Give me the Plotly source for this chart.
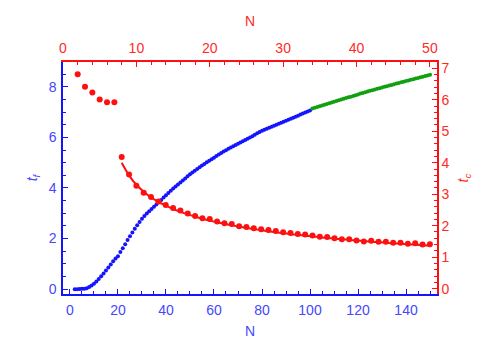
import plotly.graph_objects as go

# Bottom/left axes: t_f vs N
n_blue = list(range(2, 101))
tf_blue = [0.00, 0.00, 0.01, 0.02, 0.02, 0.04, 0.09, 0.15, 0.22, 0.30,
           0.40, 0.51, 0.62, 0.74, 0.86, 0.98, 1.10, 1.21, 1.30, 1.47,
           1.62, 1.78, 1.94, 2.09, 2.24, 2.39, 2.53, 2.66, 2.78, 2.89,
           2.99, 3.08, 3.17, 3.26, 3.35, 3.44, 3.53, 3.62, 3.71, 3.80,
           3.89, 3.98, 4.06, 4.14, 4.22, 4.30, 4.38, 4.46, 4.54, 4.61,
           4.68, 4.75, 4.82, 4.89, 4.95, 5.02, 5.08, 5.14, 5.20, 5.26,
           5.32, 5.38, 5.44, 5.49, 5.55, 5.60, 5.65, 5.70, 5.75, 5.80,
           5.85, 5.90, 5.95, 6.00, 6.05, 6.10, 6.16, 6.21, 6.26, 6.30,
           6.34, 6.38, 6.42, 6.46, 6.50, 6.54, 6.58, 6.62, 6.66, 6.70,
           6.74, 6.78, 6.82, 6.86, 6.90, 6.94, 6.98, 7.02, 7.06]

n_green = list(range(101, 151))
tf_green = [7.14, 7.17, 7.20, 7.23, 7.26, 7.29, 7.32, 7.35, 7.38, 7.41,
            7.44, 7.47, 7.50, 7.53, 7.56, 7.59, 7.61, 7.64, 7.67, 7.70,
            7.73, 7.75, 7.78, 7.81, 7.84, 7.86, 7.89, 7.92, 7.94, 7.97,
            8.00, 8.02, 8.05, 8.07, 8.10, 8.13, 8.15, 8.18, 8.20, 8.23,
            8.25, 8.28, 8.30, 8.33, 8.35, 8.38, 8.40, 8.43, 8.45, 8.48]

# Top/right axes: t_c vs N
n_red = list(range(2, 51))
tc_red = [6.81, 6.41, 6.23, 6.01, 5.92, 5.92, 4.18, 3.63, 3.27, 3.05,
          2.91, 2.77, 2.66, 2.56, 2.48, 2.39, 2.31, 2.24, 2.21, 2.13,
          2.08, 2.05, 1.98, 1.96, 1.92, 1.89, 1.86, 1.83, 1.79, 1.77,
          1.74, 1.72, 1.69, 1.65, 1.64, 1.60, 1.57, 1.57, 1.53, 1.50,
          1.52, 1.49, 1.49, 1.46, 1.46, 1.43, 1.44, 1.40, 1.41]

n_fit = list(range(8, 51))
tc_fit = [4.00, 3.60, 3.30, 3.08, 2.90, 2.76, 2.64, 2.53, 2.44, 2.36,
          2.29, 2.22, 2.16, 2.11, 2.06, 2.01, 1.97, 1.93, 1.89, 1.86,
          1.82, 1.79, 1.76, 1.73, 1.71, 1.68, 1.66, 1.63, 1.61, 1.59,
          1.57, 1.55, 1.53, 1.51, 1.49, 1.48, 1.46, 1.44, 1.43, 1.41,
          1.40, 1.38, 1.37]

BLUE = "#1414ff"
BLUE_TXT = "#4646ff"
GREEN = "#10a010"
RED = "#ff1010"
RED_TXT = "#ff2a2a"
FONT = "Liberation Sans"

fig = go.Figure()
fig.add_trace(go.Scatter(x=n_blue, y=tf_blue, mode="markers",
                         marker=dict(color=BLUE, size=4), xaxis="x", yaxis="y"))
fig.add_trace(go.Scatter(x=n_green, y=tf_green, mode="markers",
                         marker=dict(color=GREEN, size=4), xaxis="x", yaxis="y"))
fig.add_trace(go.Scatter(x=n_fit, y=tc_fit, mode="lines",
                         line=dict(color=RED, width=2, shape="spline"),
                         xaxis="x2", yaxis="y2"))
fig.add_trace(go.Scatter(x=n_red, y=tc_red, mode="markers",
                         marker=dict(color=RED, size=6), xaxis="x2", yaxis="y2"))

common = dict(showgrid=False, zeroline=False, showline=True, linewidth=1.5,
              ticks="inside", ticklen=5, tickwidth=1, automargin=False)

fig.update_layout(
    width=492, height=349,
    margin=dict(l=55, r=63, t=54, b=63),
    paper_bgcolor="white", plot_bgcolor="white",
    showlegend=False,
    font=dict(family=FONT, size=14),
    xaxis=dict(**common, range=[-2.9, 152.9], linecolor=BLUE, tickcolor=BLUE,
               tickvals=[0, 20, 40, 60, 80, 100, 120, 140], ticklabelstandoff=2,
               minor=dict(ticks="inside", ticklen=3, dtick=5, tickcolor=BLUE, tick0=0),
               tickfont=dict(color=BLUE_TXT, size=14),
               title=dict(text="N", font=dict(color=BLUE_TXT, size=14), standoff=10)),
    yaxis=dict(**common, range=[-0.19, 8.98], linecolor=BLUE, tickcolor=BLUE,
               tickvals=[0, 2, 4, 6, 8], ticklabelstandoff=2,
               minor=dict(ticks="inside", ticklen=3, dtick=0.5, tickcolor=BLUE, tick0=0),
               tickfont=dict(color=BLUE_TXT, size=14),
               title=dict(text="<i>t<sub>f</sub></i>", font=dict(color=BLUE_TXT, size=14), standoff=8)),
    xaxis2=dict(**common, range=[0, 50.97], overlaying="x", side="top", anchor="y2",
                linecolor=RED, tickcolor=RED, ticklabelstandoff=2,
                tickvals=[0, 10, 20, 30, 40, 50],
                minor=dict(ticks="inside", ticklen=3, dtick=2, tickcolor=RED, tick0=0),
                tickfont=dict(color=RED_TXT, size=14),
                title=dict(text="N", font=dict(color=RED_TXT, size=14), standoff=10)),
    yaxis2=dict(**common, range=[-0.17, 7.2], overlaying="y", side="right", anchor="x2",
                linecolor=RED, tickcolor=RED, ticklabelstandoff=0,
                tickvals=[0, 1, 2, 3, 4, 5, 6, 7],
                minor=dict(ticks="inside", ticklen=3, dtick=0.2, tickcolor=RED, tick0=0),
                tickfont=dict(color=RED_TXT, size=14),
                title=dict(text="<i>t<sub>c</sub></i>", font=dict(color=RED_TXT, size=14), standoff=10)),
)

fig.write_html("out.html")
